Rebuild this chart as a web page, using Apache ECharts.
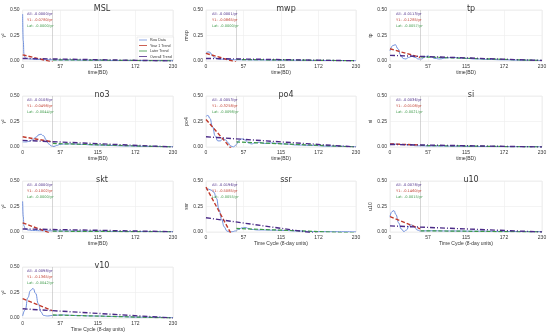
<!DOCTYPE html>
<html><head><meta charset="utf-8">
<script src="https://cdn.jsdelivr.net/npm/echarts@6/dist/echarts.min.js"></script>
<style>html,body{margin:0;padding:0;background:#fff}#c{width:550px;height:335px}</style>
</head><body><div id="c"></div>
<script>
const panelNames = ['MSL','mwp','tp','no3','po4','si','skt','ssr','u10','v10'];
const yNames = ['γ²','mwp','tp','γ²','po4','si','γ²','ssr','u10','γ²'];
const xNames = ['time(BD)','time(BD)','time(BD)','time(BD)','time(BD)','time(BD)','time(BD)','Time Cycle (8-day units)','Time Cycle (8-day units)','Time Cycle (8-day units)'];
const xTicks = [0, 57, 115, 172, 230];
const yTicks = [0.00, 0.25, 0.50];
const yearBoundary = 46;

const rawMSL = [[0,0.46],[1,0.2],[2,0.07],[3,0.04],[5,0.025],[10,0.02],[20,0.015],[40,0.012],[60,0.01],[100,0.008],[150,0.005],[230,0.003]];
const rawMWP = [[0,0.07],[3,0.09],[6,0.085],[10,0.05],[14,0.03],[20,0.02],[30,0.015],[50,0.012],[80,0.01],[120,0.008],[180,0.005],[230,0.004]];
const rawTP = [[0,0.10],[4,0.15],[8,0.16],[12,0.12],[16,0.06],[20,0.025],[24,0.02],[28,0.035],[33,0.045],[38,0.035],[43,0.02],[48,0.02],[53,0.04],[57,0.05],[62,0.04],[68,0.025],[75,0.02],[85,0.03],[95,0.035],[105,0.03],[115,0.025],[130,0.02],[150,0.015],[170,0.012],[200,0.008],[230,0.005]];
const rawNO3 = [[0,0.05],[5,0.05],[10,0.055],[15,0.07],[20,0.095],[25,0.12],[28,0.125],[32,0.11],[36,0.07],[40,0.03],[44,0.01],[48,0.005],[52,0.015],[57,0.025],[65,0.03],[75,0.03],[90,0.025],[110,0.02],[130,0.015],[160,0.01],[190,0.006],[230,0.003]];
const rawPO4 = [[0,0.30],[3,0.31],[6,0.28],[10,0.2],[14,0.11],[18,0.06],[22,0.06],[26,0.08],[30,0.07],[34,0.04],[38,0.01],[42,0.0],[46,0.02],[50,0.06],[55,0.08],[60,0.07],[65,0.04],[70,0.03],[75,0.04],[82,0.045],[90,0.035],[100,0.04],[110,0.035],[120,0.03],[140,0.02],[160,0.015],[190,0.008],[230,0.003]];
const rawSI = [[0,0.03],[10,0.028],[20,0.025],[30,0.02],[40,0.012],[60,0.01],[90,0.008],[130,0.005],[180,0.003],[230,0.002]];
const rawSKT = [[0,0.30],[1,0.15],[2,0.06],[4,0.03],[8,0.02],[15,0.015],[30,0.012],[60,0.01],[100,0.008],[150,0.005],[230,0.003]];
const rawSSR = [[0,0.42],[4,0.42],[8,0.41],[12,0.39],[16,0.33],[20,0.22],[24,0.12],[28,0.05],[32,0.01],[36,0.0],[40,0.002],[45,0.01],[50,0.025],[55,0.04],[60,0.045],[65,0.035],[70,0.025],[80,0.02],[90,0.02],[100,0.018],[120,0.015],[140,0.01],[160,0.005],[190,0.003],[230,0.002]];
const rawU10 = [[0,0.15],[3,0.2],[6,0.21],[9,0.17],[13,0.09],[17,0.03],[21,0.005],[25,0.02],[29,0.06],[33,0.07],[37,0.05],[41,0.02],[46,0.01],[60,0.012],[90,0.01],[130,0.008],[180,0.005],[230,0.003]];
const rawV10 = [[0,0.02],[4,0.08],[8,0.2],[12,0.27],[16,0.29],[20,0.24],[24,0.14],[28,0.06],[32,0.025],[38,0.02],[46,0.025],[60,0.03],[80,0.025],[110,0.02],[140,0.015],[180,0.008],[230,0.004]];
const rawData = [rawMSL,rawMWP,rawTP,rawNO3,rawPO4,rawSI,rawSKT,rawSSR,rawU10,rawV10];

// Year-1 trend values at x=0 and x=46
const year1Trend = [[0.06,-0.01],[0.075,-0.01],[0.12,0.035],[0.10,0.05],[0.27,-0.07],[0.03,0.02],[0.09,-0.02],[0.44,-0.107],[0.15,0.03],[0.19,0.07]];
// Later trend values at x=46 and x=230
const laterTrend = [[0.012,0.002],[0.015,0.003],[0.04,0.005],[0.035,0.0],[0.05,0.0],[0.015,0.0],[0.008,0.002],[0.035,-0.01],[0.012,0.0],[0.03,0.0]];
// Overall trend values at x=0 and x=230
const overallTrend = [[0.025,0.0],[0.025,0.002],[0.055,0.005],[0.065,0.0],[0.10,0.0],[0.025,0.0],[0.03,0.003],[0.14,-0.068],[0.06,0.0],[0.09,0.0]];

const allText = ['All: -0.0000/yr','All: -0.0001/yr','All: -0.0113/yr','All: -0.0108/yr','All: -0.0053/yr','All: -0.0036/yr','All: -0.0000/yr','All: -0.0196/yr','All: -0.0078/yr','All: -0.0098/yr'];
const y1Text = ['Y1: -0.0780/yr','Y1: -0.0865/yr','Y1: -0.1285/yr','Y1: -0.0498/yr','Y1: -0.3258/yr','Y1: -0.0108/yr','Y1: -0.1002/yr','Y1: -0.5085/yr','Y1: -0.1460/yr','Y1: -0.1365/yr'];
const latText = ['Lat: -0.0000/yr','Lat: -0.0000/yr','Lat: -0.0057/yr','Lat: -0.0044/yr','Lat: -0.0098/yr','Lat: -0.0021/yr','Lat: -0.0000/yr','Lat: -0.0055/yr','Lat: -0.0015/yr','Lat: -0.0042/yr'];

const colLeft = [21, 206, 390];
const colWidth = [152, 150, 152];
const rowTop = [10, 96, 181, 267];
const gridH = 51;

const C_RAW = '#6f8fdc', C_Y1 = '#c0392b', C_LAT = '#3d9a48', C_ALL = '#4b2a87';
const grids = [], xAxes = [], yAxes = [], series = [], titles = [], graphics = [];
panelNames.forEach((name, i) => {
  const r = Math.floor(i / 3), c = i % 3;
  const L = colLeft[c], W = colWidth[c], T = rowTop[r];
  grids.push({left: L, top: T, width: W, height: gridH, show: true, borderColor: '#e6e6e6', borderWidth: 0.6, backgroundColor: '#fff'});
  titles.push({text: name, left: L + W / 2, top: T - 10, textAlign: 'center', textStyle: {fontSize: 8, fontWeight: 'normal', color: '#333', fontFamily: 'DejaVu Sans'}});
  xAxes.push({gridIndex: i, type: 'value', min: 0, max: 230, interval: 57.5, name: xNames[i], nameLocation: 'middle', nameGap: 8,
    nameTextStyle: {fontSize: 5, color: '#333'},
    axisLine: {show: false}, axisTick: {show: false},
    axisLabel: {fontSize: 5, color: '#333', margin: 3, formatter: v => String(xTicks[Math.round(v / 57.5)])},
    splitLine: {lineStyle: {color: '#ececec', width: 0.6}}});
  yAxes.push({gridIndex: i, type: 'value', min: 0, max: 0.5, interval: 0.25, name: yNames[i], nameLocation: 'middle', nameGap: 14, nameRotate: 90,
    nameTextStyle: {fontSize: 5, color: '#333'},
    axisLine: {show: false}, axisTick: {show: false},
    axisLabel: {fontSize: 5, color: '#333', margin: 3, formatter: v => yTicks[Math.round(v / 0.25)].toFixed(2)},
    splitLine: {lineStyle: {color: '#ececec', width: 0.6}}});
  series.push({name: 'Raw Data', type: 'line', xAxisIndex: i, yAxisIndex: i, data: rawData[i], smooth: 0.5, smoothMonotone: 'x', showSymbol: false, clip: true,
    lineStyle: {color: C_RAW, width: 1}, itemStyle: {color: C_RAW}, z: 3,
    markLine: {silent: true, symbol: 'none', label: {show: false}, lineStyle: {color: '#bbbbbb', width: 0.6, type: 'solid'}, data: [{xAxis: yearBoundary}]}});
  series.push({name: 'Year 1 Trend', type: 'line', xAxisIndex: i, yAxisIndex: i, data: [[0, year1Trend[i][0]], [yearBoundary, year1Trend[i][1]]], showSymbol: false, clip: true,
    lineStyle: {color: C_Y1, width: 1.4, type: [4, 2]}, itemStyle: {color: C_Y1}, z: 4});
  series.push({name: 'Later Trend', type: 'line', xAxisIndex: i, yAxisIndex: i, data: [[yearBoundary, laterTrend[i][0]], [230, laterTrend[i][1]]], showSymbol: false, clip: true,
    lineStyle: {color: C_LAT, width: 1.2, type: [4, 2]}, itemStyle: {color: C_LAT}, z: 4});
  series.push({name: 'Overall Trend', type: 'line', xAxisIndex: i, yAxisIndex: i, data: [[0, overallTrend[i][0]], [230, overallTrend[i][1]]], showSymbol: false, clip: true,
    lineStyle: {color: C_ALL, width: 1.4, type: [5, 2, 1, 2]}, itemStyle: {color: C_ALL}, z: 5});
  [[allText[i], C_ALL], [y1Text[i], C_Y1], [latText[i], C_LAT]].forEach((t, k) => {
    graphics.push({type: 'text', left: L + 6, top: T + 2 + k * 6, z: 10, style: {text: t[0], fill: t[1], fontSize: 3.6, fontFamily: 'DejaVu Sans'}});
  });
});

const chart = echarts.init(document.getElementById('c'), null, {renderer: 'canvas'});
chart.setOption({
  animation: false,
  backgroundColor: '#fff',
  title: titles,
  grid: grids, xAxis: xAxes, yAxis: yAxes, series: series,
  graphic: graphics,
  legend: {data: ['Raw Data', 'Year 1 Trend', 'Later Trend', 'Overall Trend'], orient: 'vertical', left: 137, top: 37,
    itemWidth: 8, itemHeight: 3, itemGap: 1.5, padding: [1, 2, 1, 2], backgroundColor: 'rgba(255,255,255,0.9)', borderColor: '#dddddd', borderWidth: 0.5,
    textStyle: {fontSize: 3.6, color: '#333', padding: [0, 0, 0, -2]}, selectedMode: false, icon: 'path://M0,0L10,0L10,1L0,1Z'}
});
</script></body></html>
